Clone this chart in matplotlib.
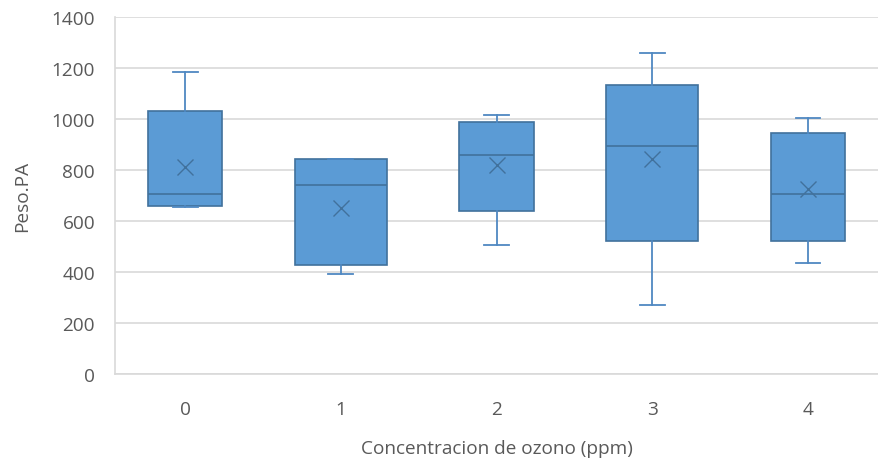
import matplotlib.pyplot as plt

# --- data ----------------------------------------------------------------
categories = ["0", "1", "2", "3", "4"]
whisker_lo = [655, 393, 508, 269, 436]
q1         = [660, 428, 639, 523, 523]
medians    = [706, 742, 859, 895, 706]
q3         = [1034, 843, 989, 1134, 946]
whisker_hi = [1186, 843, 1018, 1259, 1004]
means      = [813, 652, 822, 842, 727]

# --- style ----------------------------------------------------------------
FILL = "#5B9BD5"
EDGE = "#41719C"
GRID = "#D9D9D9"
TEXT = "#595959"
box_widths = [0.47, 0.59, 0.48, 0.59, 0.48]
FS = 13.7

plt.rcParams["font.family"] = ["Open Sans", "DejaVu Sans"]

stats = []
for i, name in enumerate(categories):
    stats.append(dict(label=name, whislo=whisker_lo[i], q1=q1[i], med=medians[i],
                      q3=q3[i], whishi=whisker_hi[i], mean=means[i], fliers=[]))

fig = plt.figure(figsize=(8.79, 4.64), dpi=100)
ax = fig.add_axes([0.1303, 0.1918, 0.8697, 0.7688])

ax.bxp(stats, positions=range(len(categories)), widths=box_widths,
       patch_artist=True, showmeans=True, capwidths=0.16,
       boxprops=dict(facecolor=FILL, edgecolor=EDGE, linewidth=1.2),
       medianprops=dict(color=EDGE, linewidth=1.2),
       whiskerprops=dict(color="#4F88C2", linewidth=1.3),
       capprops=dict(color="#4F88C2", linewidth=1.3),
       meanprops=dict(marker="x", markeredgecolor=EDGE, markersize=12,
                      markeredgewidth=1.0),
       zorder=3)

ax.set_xlim(-0.453, 4.456)
ax.set_ylim(0, 1400)
ax.set_yticks(range(0, 1401, 200))
ax.yaxis.grid(True, color=GRID, linewidth=1.2, zorder=0)
ax.set_axisbelow(True)

for side in ["top", "right"]:
    ax.spines[side].set_visible(False)
for side in ["left", "bottom"]:
    ax.spines[side].set_color(GRID)
    ax.spines[side].set_linewidth(1.2)

ax.tick_params(axis="both", length=0, colors=TEXT, labelsize=FS)
ax.tick_params(axis="y", pad=14)
ax.tick_params(axis="x", pad=19)

ax.set_xlabel("Concentracion de ozono (ppm)", color=TEXT, fontsize=FS, va="center")
ax.set_ylabel("Peso.PA", color=TEXT, fontsize=FS, va="center")
ax.xaxis.set_label_coords(0.5, -0.207)
ax.yaxis.set_label_coords(-0.121, 0.5)

plt.savefig("out.png", dpi=100)
